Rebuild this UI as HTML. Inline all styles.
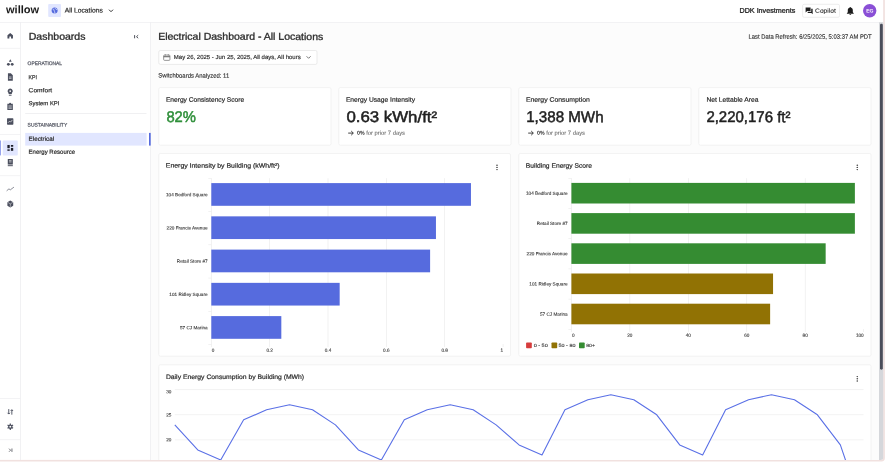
<!DOCTYPE html>
<html lang="en">
<head>
<meta charset="utf-8">
<title>Electrical Dashboard - All Locations</title>
<style>
html,body{margin:0;padding:0;}
body{width:889px;height:464px;overflow:hidden;position:relative;background:#fff;font-family:"Liberation Sans",sans-serif;}
#app{position:absolute;left:0;top:0;width:889px;height:464px;overflow:hidden;}
#bg{position:absolute;left:0;top:0;}
.t{position:absolute;white-space:pre;font-family:"Liberation Sans",sans-serif;transform-origin:0 0;padding:0 24px 0 0;}
</style>
</head>
<body>
<div id="app">
<svg id="bg" width="889" height="464" viewBox="0 0 889 464">
<defs><clipPath id="fc"><path d="M0 0H883.4V456.9a3 3 0 0 1 -3 3H0z"/></clipPath></defs>
<path d="M0 0H884.9V458.0a3.4 3.4 0 0 1 -3.4 3.4H0z" fill="#f1e1df"/>
<g clip-path="url(#fc)">
<rect x="0" y="0" width="883.4" height="459.9" fill="#fff"/>
<rect x="150.5" y="22.3" width="730" height="440" fill="#fcfcfc"/>
<rect x="0" y="22" width="883.4" height="0.6" fill="#ebebee"/>
<rect x="20.3" y="22.3" width="0.7" height="440" fill="#ebebee"/>
<rect x="150.1" y="22.3" width="0.7" height="440" fill="#ebebee"/>
<rect x="879" y="22.3" width="4.6" height="440" fill="#d5d7db"/>
<rect x="880" y="23.7" width="2.8" height="346" rx="1.4" fill="#4a4d5a"/>
<rect x="48.2" y="4" width="12.8" height="13.1" rx="1" fill="#e1e6ff"/>
<g transform="translate(51.5 7.4) scale(0.26)"><circle cx="12" cy="12" r="11.5" fill="#566bde"/><path d="M4 6c2 1 5 1 6 3s-1 3 0 5 3 2 3 4-1 3-1 5" stroke="#e1e6ff" stroke-width="3.2" fill="none"/><path d="M15 2c-1 2 0 4 2 5s4 0 5 3" stroke="#e1e6ff" stroke-width="3" fill="none"/></g>
<path d="M109 9.7l2 2 2 -2" stroke="#333" stroke-width="1" fill="none"/>
<rect x="802.6" y="4.3" width="36.9" height="13" rx="1.5" fill="#fff" stroke="#e6e6e6" stroke-width="0.7"/>
<g transform="translate(805.3 7.1) scale(0.32)" fill="#1f1f1f"><path d="M1 1h15.500v11.500H6l-5 4z"/><path d="M18.500 5h4.500v17.500l-4 -4H7.500v-4h11z"/></g>
<g transform="translate(846.7 6.6) scale(0.36)" fill="#1c1c1c"><path d="M10 1c1 0 1.6 .7 1.6 1.6C15 3.6 17 6.5 17 10v6l2.500 2.5V20H.5v-1.5L3 16v-6c0 -3.5 2 -6.4 5.4 -7.4C8.400 1.7 9 1 10 1zM7.500 21h5c0 1.5 -1.1 2.6 -2.5 2.6S7.500 22.5 7.5 21z"/></g>
<circle cx="869.7" cy="10.8" r="6.7" fill="#8a4fd6"/>
<rect x="0" y="47.9" width="20.3" height="0.6" fill="#ebebee"/>
<rect x="0" y="134" width="20.3" height="0.6" fill="#ebebee"/>
<rect x="0" y="175.5" width="20.3" height="0.6" fill="#ebebee"/>
<rect x="0" y="398.1" width="20.3" height="0.6" fill="#ebebee"/>
<rect x="0" y="439.5" width="20.3" height="0.6" fill="#ebebee"/>
<rect x="2.7" y="140.5" width="15.1" height="14.9" rx="1" fill="#e1e6ff"/>
<rect x="0" y="140.5" width="1" height="14.9" fill="#97a3ec"/>
<g transform="translate(6.9 32.4) scale(0.275 0.275)"><path d="M12 2L2 10v12h7v-7h6v7h7V10z" fill="#4b4f5e"/></g>
<g transform="translate(6.5 58.9) scale(0.3167 0.3083)"><path d="M12 1l4.500 8h-9z" fill="#4b4f5e"/><circle cx="6" cy="17.5" r="4.5" fill="#4b4f5e"/><circle cx="18" cy="17.5" r="4.5" fill="#4b4f5e"/></g>
<g transform="translate(6.3 72.9) scale(0.325 0.3417)"><path d="M5 1h9l6 6v16H5z" fill="#4b4f5e"/><path d="M8 12h8M8 16h8" stroke="#fff" stroke-width="1.8"/></g>
<g transform="translate(6.2 88.2) scale(0.3333 0.325)"><path d="M12 1a8 8 0 0 1 5 14v3H7v-3A8 8 0 0 1 12 1z" fill="#4b4f5e"/><rect x="8" y="20" width="8" height="3" fill="#4b4f5e"/><circle cx="12" cy="9" r="2.5" fill="#fff"/></g>
<g transform="translate(6 102.7) scale(0.3417 0.3167)"><path d="M4 3h5a3 3 0 0 1 6 0h5v20H4z" fill="#4b4f5e"/><path d="M7 10h10M7 14h10M7 18h10" stroke="#fff" stroke-width="1.6"/></g>
<g transform="translate(6.4 117.7) scale(0.3167 0.3167)"><rect x="2" y="2" width="20" height="20" rx="2" fill="#4b4f5e"/><path d="M5 16l5 -5 3 3 6 -7" stroke="#fff" stroke-width="2" fill="none"/></g>
<g transform="translate(6.8 144.4) scale(0.2917 0.2917)"><rect x="2" y="2" width="8" height="11" fill="#1d1f2a"/><rect x="14" y="2" width="8" height="6" fill="#1d1f2a"/><rect x="2" y="17" width="8" height="5" fill="#1d1f2a"/><rect x="14" y="12" width="8" height="10" fill="#1d1f2a"/></g>
<g transform="translate(6.5 158.7) scale(0.3167 0.325)"><path d="M4 1h16v17H4z" fill="#4b4f5e"/><path d="M4 20h16v3H4z" fill="#4b4f5e"/><path d="M8 6h8M8 10h8" stroke="#fff" stroke-width="1.8"/></g>
<g transform="translate(6.3 186.1) scale(0.3333 0.25)"><path d="M1 19l7 -8 4 4 11 -11" stroke="#4b4f5e" stroke-width="2.2" fill="none"/></g>
<g transform="translate(6.8 200.1) scale(0.2917 0.3167)"><path d="M12 1l10 5.5v11L12 23 2 17.5v-11z" fill="#4b4f5e"/><path d="M3 7l9 5 9 -5M12 12v10" stroke="#fff" stroke-width="1.5" fill="none"/></g>
<g transform="translate(6.6 408.2) scale(0.3083 0.3083)"><path d="M7 3v16M3 15l4 4 4 -4M17 21V5M13 9l4 -4 4 4" stroke="#4b4f5e" stroke-width="3" fill="none"/></g>
<g transform="translate(6.8 423.2) scale(0.2917 0.2917)"><circle cx="12" cy="12" r="5.5" fill="none" stroke="#4b4f5e" stroke-width="4"/><path d="M12 1v22M2.500 6.5l19 11M2.500 17.5l19 -11" stroke="#4b4f5e" stroke-width="4"/><circle cx="12" cy="12" r="3" fill="#fff"/></g>
<g transform="translate(8.5 447.9) scale(0.1917 0.1917)"><path d="M3 4l8 8 -8 8" stroke="#33363f" stroke-width="3.6" fill="none"/><path d="M18 3v18" stroke="#33363f" stroke-width="3.6"/></g>
<rect x="25.2" y="113.2" width="121.3" height="0.6" fill="#e6e6ea"/>
<rect x="25.2" y="132.9" width="121.4" height="12.7" fill="#e1e6ff"/>
<rect x="149" y="132.9" width="1.7" height="12.7" fill="#566bde"/>
<path d="M134.600 35.1v3.200M138.200 35.2l-1.7 1.5 1.7 1.5" stroke="#3a3d47" stroke-width="0.9" fill="none"/>
<rect x="158.8" y="50.5" width="158.2" height="13.9" rx="1.5" fill="#fff" stroke="#e3e3e3" stroke-width="0.7"/>
<g transform="translate(163.3 54.3) scale(0.5)" fill="none" stroke="#6a6a6a" stroke-width="1.4"><rect x="0.7" y="1.5" width="12.6" height="10.6" rx="1.8"/><path d="M0.7 4.8h12.600" stroke-width="2.2"/><path d="M4 0v2.500M10 0v2.500"/></g>
<path d="M306.600 56.3l2 2 2 -2" stroke="#555" stroke-width="0.8" fill="none"/>
<rect x="158.8" y="87.6" width="172.2" height="57.6" rx="1.5" fill="#fff" stroke="#eeeeee" stroke-width="0.7"/>
<rect x="338.8" y="87.6" width="172.2" height="57.6" rx="1.5" fill="#fff" stroke="#eeeeee" stroke-width="0.7"/>
<rect x="518.8" y="87.6" width="172.2" height="57.6" rx="1.5" fill="#fff" stroke="#eeeeee" stroke-width="0.7"/>
<rect x="698.8" y="87.6" width="172.2" height="57.6" rx="1.5" fill="#fff" stroke="#eeeeee" stroke-width="0.7"/>
<rect x="158.8" y="153.5" width="351.7" height="202.7" rx="1.5" fill="#fff" stroke="#eeeeee" stroke-width="0.7"/>
<rect x="518.8" y="153.5" width="352.2" height="202.7" rx="1.5" fill="#fff" stroke="#eeeeee" stroke-width="0.7"/>
<rect x="158.8" y="364.8" width="712.2" height="114.9" rx="1.5" fill="#fff" stroke="#eeeeee" stroke-width="0.7"/>
<path d="M348.2 133.1h5M351.2 131l2.100 2.1 -2.1 2.1" stroke="#2e2e2e" stroke-width="0.9" fill="none"/>
<path d="M528.2 133.1h5M531.2 131l2.100 2.1 -2.1 2.1" stroke="#2e2e2e" stroke-width="0.9" fill="none"/>
<rect x="208.3" y="178" width="3" height="0.6" fill="#e9e9e9"/>
<rect x="568.4" y="178" width="3" height="0.6" fill="#e9e9e9"/>
<rect x="208.3" y="211.25" width="3" height="0.6" fill="#e9e9e9"/>
<rect x="568.4" y="208.2" width="3" height="0.6" fill="#e9e9e9"/>
<rect x="208.3" y="244.5" width="3" height="0.6" fill="#e9e9e9"/>
<rect x="568.4" y="238.4" width="3" height="0.6" fill="#e9e9e9"/>
<rect x="208.3" y="277.75" width="3" height="0.6" fill="#e9e9e9"/>
<rect x="568.4" y="268.6" width="3" height="0.6" fill="#e9e9e9"/>
<rect x="208.3" y="311" width="3" height="0.6" fill="#e9e9e9"/>
<rect x="568.4" y="298.8" width="3" height="0.6" fill="#e9e9e9"/>
<rect x="208.3" y="344.25" width="3" height="0.6" fill="#e9e9e9"/>
<rect x="568.4" y="329" width="3" height="0.6" fill="#e9e9e9"/>
<rect x="211" y="344" width="0.6" height="3" fill="#e9e9e9"/>
<rect x="571.1" y="329" width="0.6" height="3" fill="#e9e9e9"/>
<rect x="269.35" y="344" width="0.6" height="3" fill="#e9e9e9"/>
<rect x="629.55" y="329" width="0.6" height="3" fill="#e9e9e9"/>
<rect x="327.7" y="344" width="0.6" height="3" fill="#e9e9e9"/>
<rect x="688" y="329" width="0.6" height="3" fill="#e9e9e9"/>
<rect x="386.05" y="344" width="0.6" height="3" fill="#e9e9e9"/>
<rect x="746.45" y="329" width="0.6" height="3" fill="#e9e9e9"/>
<rect x="444.4" y="344" width="0.6" height="3" fill="#e9e9e9"/>
<rect x="804.9" y="329" width="0.6" height="3" fill="#e9e9e9"/>
<rect x="502.75" y="344" width="0.6" height="3" fill="#e9e9e9"/>
<rect x="863.35" y="329" width="0.6" height="3" fill="#e9e9e9"/>
<rect x="211" y="178.2" width="0.6" height="165.8" fill="#e9e9e9"/>
<rect x="269.35" y="178.2" width="0.6" height="165.8" fill="#e9e9e9"/>
<rect x="327.7" y="178.2" width="0.6" height="165.8" fill="#e9e9e9"/>
<rect x="386.05" y="178.2" width="0.6" height="165.8" fill="#e9e9e9"/>
<rect x="444.4" y="178.2" width="0.6" height="165.8" fill="#e9e9e9"/>
<rect x="211.3" y="183.1" width="259.66" height="22.7" fill="#566bde"/>
<rect x="211.3" y="216.35" width="224.65" height="22.7" fill="#566bde"/>
<rect x="211.3" y="249.6" width="218.81" height="22.7" fill="#566bde"/>
<rect x="211.3" y="282.85" width="128.37" height="22.7" fill="#566bde"/>
<rect x="211.3" y="316.1" width="70.02" height="22.7" fill="#566bde"/>
<rect x="571.1" y="178.2" width="0.6" height="150.8" fill="#e9e9e9"/>
<rect x="629.55" y="178.2" width="0.6" height="150.8" fill="#e9e9e9"/>
<rect x="688" y="178.2" width="0.6" height="150.8" fill="#e9e9e9"/>
<rect x="746.45" y="178.2" width="0.6" height="150.8" fill="#e9e9e9"/>
<rect x="804.9" y="178.2" width="0.6" height="150.8" fill="#e9e9e9"/>
<rect x="571.4" y="182.9" width="283.48" height="20.6" fill="#358c32"/>
<rect x="571.4" y="213.1" width="283.48" height="20.6" fill="#358c32"/>
<rect x="571.4" y="243.3" width="254.26" height="20.6" fill="#358c32"/>
<rect x="571.4" y="273.5" width="201.65" height="20.6" fill="#917204"/>
<rect x="571.4" y="303.7" width="198.73" height="20.6" fill="#917204"/>
<rect x="526.1" y="342.5" width="5.7" height="5.7" rx="0.8" fill="#d63c3c"/>
<rect x="551.5" y="342.5" width="5.7" height="5.7" rx="0.8" fill="#917204"/>
<rect x="579" y="342.5" width="5.7" height="5.7" rx="0.8" fill="#358c32"/>
<ellipse cx="497" cy="165.2" rx="0.85" ry="0.7" fill="#4a4a4a"/>
<ellipse cx="497" cy="167.4" rx="0.85" ry="0.7" fill="#4a4a4a"/>
<ellipse cx="497" cy="169.6" rx="0.85" ry="0.7" fill="#4a4a4a"/>
<ellipse cx="857.3" cy="165.2" rx="0.85" ry="0.7" fill="#4a4a4a"/>
<ellipse cx="857.3" cy="167.4" rx="0.85" ry="0.7" fill="#4a4a4a"/>
<ellipse cx="857.3" cy="169.6" rx="0.85" ry="0.7" fill="#4a4a4a"/>
<ellipse cx="857.3" cy="376.6" rx="0.85" ry="0.7" fill="#4a4a4a"/>
<ellipse cx="857.3" cy="378.8" rx="0.85" ry="0.7" fill="#4a4a4a"/>
<ellipse cx="857.3" cy="381" rx="0.85" ry="0.7" fill="#4a4a4a"/>
<rect x="174.8" y="389.35" width="688.7" height="0.7" fill="#ededed"/>
<rect x="174.8" y="414.45" width="688.7" height="0.7" fill="#ededed"/>
<rect x="174.8" y="439.55" width="688.7" height="0.7" fill="#ededed"/>
<polyline points="174.8,424.84 197.75,449.94 220.7,459.98 243.65,419.82 266.6,409.78 289.55,404.76 312.5,409.78 335.45,424.84 358.4,449.94 381.35,459.98 404.3,419.82 427.25,409.78 450.2,404.76 473.15,409.78 496.1,424.84 519.05,444.92 542,454.96 564.95,409.78 587.9,399.74 610.85,394.72 633.8,399.74 656.75,414.8 679.7,444.92 702.65,454.96 725.6,409.78 748.55,399.74 771.5,394.72 794.45,399.74 817.4,414.8 840.35,444.92 863.3,512.19" fill="none" stroke="#5a70e6" stroke-width="1.1" stroke-linejoin="round"/>
</g>
</svg>
<span class="t" style="left:6px;top:2px;font-size:22px;line-height:30.8px;color:#1a1a1a;transform:translate(0px,0.18px) rotate(0.08deg) scale(0.5015,0.5);font-weight:700;">willow</span>
<span class="t" style="left:64px;top:6px;font-size:13.4px;line-height:18.76px;color:#2b2b2b;transform:translate(0.7px,0.02px) rotate(0.08deg) scale(0.5017,0.5);-webkit-text-stroke:0.4px #2b2b2b;">All Locations</span>
<span class="t" style="left:739px;top:5px;font-size:13.6px;line-height:19.04px;color:#2b2b2b;transform:translate(0.5px,0.73px) rotate(0.08deg) scale(0.5276,0.5);-webkit-text-stroke:0.6px #2b2b2b;">DDK Investments</span>
<span class="t" style="left:815px;top:6px;font-size:12.4px;line-height:17.36px;color:#2b2b2b;transform:translate(0.1px,0.67px) rotate(0.08deg) scale(0.5366,0.5);-webkit-text-stroke:0.2px #2b2b2b;">Copilot</span>
<span class="t" style="left:866px;top:7px;font-size:10px;line-height:14px;color:#fff;transform:translate(0.19px,0.53px) rotate(0.08deg) scale(0.5,0.5);font-weight:700;">EG</span>
<span class="t" style="left:28px;top:29px;font-size:19.8px;line-height:27.72px;color:#2b2b2b;transform:translate(0.7px,0.76px) rotate(0.08deg) scale(0.5325,0.5);-webkit-text-stroke:0.6px #2b2b2b;">Dashboards</span>
<span class="t" style="left:27px;top:59px;font-size:10.2px;line-height:14.28px;color:#5e616c;transform:translate(0.6px,0.95px) rotate(0.08deg) scale(0.481,0.5);-webkit-text-stroke:0.5px #5e616c;">OPERATIONAL</span>
<span class="t" style="left:28px;top:73px;font-size:11.8px;line-height:16.52px;color:#2b2b2b;transform:translate(0.6px,0.16px) rotate(0.08deg) scale(0.4417,0.5);-webkit-text-stroke:0.4px #2b2b2b;">KPI</span>
<span class="t" style="left:28px;top:86px;font-size:11.8px;line-height:16.52px;color:#2b2b2b;transform:translate(0.6px,0.25px) rotate(0.08deg) scale(0.5625,0.5);-webkit-text-stroke:0.4px #2b2b2b;">Comfort</span>
<span class="t" style="left:28px;top:99px;font-size:11.8px;line-height:16.52px;color:#2b2b2b;transform:translate(0.6px,0.25px) rotate(0.08deg) scale(0.4998,0.5);-webkit-text-stroke:0.4px #2b2b2b;">System KPI</span>
<span class="t" style="left:27px;top:121px;font-size:10.2px;line-height:14.28px;color:#5e616c;transform:translate(0.6px,0.54px) rotate(0.08deg) scale(0.4868,0.5);-webkit-text-stroke:0.5px #5e616c;">SUSTAINABILITY</span>
<span class="t" style="left:28px;top:134px;font-size:11.8px;line-height:16.52px;color:#2b2b2b;transform:translate(0.6px,0.65px) rotate(0.08deg) scale(0.5328,0.5);-webkit-text-stroke:0.4px #2b2b2b;">Electrical</span>
<span class="t" style="left:28px;top:147px;font-size:11.8px;line-height:16.52px;color:#2b2b2b;transform:translate(0.6px,0.74px) rotate(0.08deg) scale(0.5101,0.5);-webkit-text-stroke:0.4px #2b2b2b;">Energy Resource</span>
<span class="t" style="left:158px;top:29px;font-size:19.8px;line-height:27.72px;color:#2b2b2b;transform:translate(0.2px,0.69px) rotate(0.08deg) scale(0.5306,0.5);-webkit-text-stroke:0.6px #2b2b2b;">Electrical Dashboard - All Locations</span>
<span class="t" style="left:748px;top:32px;font-size:12.6px;line-height:17.64px;color:#2b2b2b;transform:translate(0.5px,0.66px) rotate(0.08deg) scale(0.4668,0.5);-webkit-text-stroke:0.24px #2b2b2b;">Last Data Refresh: 6/25/2025, 5:03:37 AM PDT</span>
<span class="t" style="left:173px;top:52px;font-size:11.8px;line-height:16.52px;color:#2b2b2b;transform:translate(0.8px,0.88px) rotate(0.08deg) scale(0.5092,0.5);-webkit-text-stroke:0.3px #2b2b2b;">May 26, 2025 - Jun 25, 2025, All days, All hours</span>
<span class="t" style="left:158px;top:71px;font-size:12.6px;line-height:17.64px;color:#2b2b2b;transform:translate(0.2px,0.6px) rotate(0.08deg) scale(0.4731,0.5);-webkit-text-stroke:0.24px #2b2b2b;">Switchboards Analyzed: 11</span>
<span class="t" style="left:165px;top:95px;font-size:12.8px;line-height:17.92px;color:#2b2b2b;transform:translate(0.9px,0.13px) rotate(0.08deg) scale(0.5192,0.5);-webkit-text-stroke:0.4px #2b2b2b;">Energy Consistency Score</span>
<span class="t" style="left:345px;top:95px;font-size:12.8px;line-height:17.92px;color:#2b2b2b;transform:translate(0.9px,0.13px) rotate(0.08deg) scale(0.5222,0.5);-webkit-text-stroke:0.4px #2b2b2b;">Energy Usage Intensity</span>
<span class="t" style="left:525px;top:95px;font-size:12.8px;line-height:17.92px;color:#2b2b2b;transform:translate(0.9px,0.14px) rotate(0.08deg) scale(0.5355,0.5);-webkit-text-stroke:0.4px #2b2b2b;">Energy Consumption</span>
<span class="t" style="left:706px;top:95px;font-size:12.8px;line-height:17.92px;color:#2b2b2b;transform:translate(0.4px,0.14px) rotate(0.08deg) scale(0.5258,0.5);-webkit-text-stroke:0.4px #2b2b2b;">Net Lettable Area</span>
<span class="t" style="left:166px;top:106px;font-size:31px;line-height:43.4px;color:#2f8f3a;transform:translate(0.4px,0.09px) rotate(0.08deg) scale(0.4754,0.5);-webkit-text-stroke:1px #2f8f3a;">82%</span>
<span class="t" style="left:346px;top:106px;font-size:31px;line-height:43.4px;color:#1f1f1f;transform:translate(0.4px,0.05px) rotate(0.08deg) scale(0.5428,0.5);-webkit-text-stroke:1px #1f1f1f;">0.63 kWh/ft&sup2;</span>
<span class="t" style="left:526px;top:106px;font-size:31px;line-height:43.4px;color:#1f1f1f;transform:translate(0.2px,0.06px) rotate(0.08deg) scale(0.4883,0.5);-webkit-text-stroke:1px #1f1f1f;">1,388 MWh</span>
<span class="t" style="left:706px;top:106px;font-size:31px;line-height:43.4px;color:#1f1f1f;transform:translate(0.4px,0.05px) rotate(0.08deg) scale(0.4831,0.5);-webkit-text-stroke:1px #1f1f1f;">2,220,176 ft&sup2;</span>
<span class="t" style="left:357px;top:129px;font-size:11.4px;line-height:15.96px;color:#2b2b2b;transform:translate(0px,0.33px) rotate(0.08deg) scale(0.4615,0.5);font-weight:700;">0%</span>
<span class="t" style="left:366px;top:129px;font-size:11.4px;line-height:15.96px;color:#6e6e6e;transform:translate(0.2px,0.31px) rotate(0.08deg) scale(0.5106,0.5);-webkit-text-stroke:0.2px #6e6e6e;">for prior 7 days</span>
<span class="t" style="left:537px;top:129px;font-size:11.4px;line-height:15.96px;color:#2b2b2b;transform:translate(0px,0.33px) rotate(0.08deg) scale(0.4615,0.5);font-weight:700;">0%</span>
<span class="t" style="left:546px;top:129px;font-size:11.4px;line-height:15.96px;color:#6e6e6e;transform:translate(0.2px,0.31px) rotate(0.08deg) scale(0.5106,0.5);-webkit-text-stroke:0.2px #6e6e6e;">for prior 7 days</span>
<span class="t" style="left:165px;top:161px;font-size:12.8px;line-height:17.92px;color:#2b2b2b;transform:translate(0.8px,0.1px) rotate(0.08deg) scale(0.5401,0.5);-webkit-text-stroke:0.4px #2b2b2b;">Energy Intensity by Building (kWh/ft&sup2;)</span>
<span class="t" style="left:525px;top:161px;font-size:12.8px;line-height:17.92px;color:#2b2b2b;transform:translate(0.8px,0.13px) rotate(0.08deg) scale(0.5228,0.5);-webkit-text-stroke:0.4px #2b2b2b;">Building Energy Score</span>
<span class="t" style="left:165px;top:372px;font-size:12.8px;line-height:17.92px;color:#2b2b2b;transform:translate(0.9px,0.38px) rotate(0.08deg) scale(0.5324,0.5);-webkit-text-stroke:0.4px #2b2b2b;">Daily Energy Consumption by Building (MWh)</span>
<span class="t" style="left:165px;top:191px;font-size:9.3px;line-height:13.02px;color:#3a3a3a;transform:translate(0.99px,0.66px) rotate(0.08deg) scale(0.5,0.5);-webkit-text-stroke:0.24px #3a3a3a;">104 Bedford Square</span>
<span class="t" style="left:166px;top:224px;font-size:9.3px;line-height:13.02px;color:#3a3a3a;transform:translate(0.59px,0.91px) rotate(0.08deg) scale(0.5,0.5);-webkit-text-stroke:0.24px #3a3a3a;">220 Francis Avenue</span>
<span class="t" style="left:176px;top:258px;font-size:9.3px;line-height:13.02px;color:#3a3a3a;transform:translate(0.85px,0.17px) rotate(0.08deg) scale(0.5,0.5);-webkit-text-stroke:0.24px #3a3a3a;">Retail Store #7</span>
<span class="t" style="left:169px;top:291px;font-size:9.3px;line-height:13.02px;color:#3a3a3a;transform:translate(0.35px,0.41px) rotate(0.08deg) scale(0.5,0.5);-webkit-text-stroke:0.24px #3a3a3a;">101 Ridley Square</span>
<span class="t" style="left:179px;top:324px;font-size:9.3px;line-height:13.02px;color:#3a3a3a;transform:translate(0.95px,0.67px) rotate(0.08deg) scale(0.5,0.5);-webkit-text-stroke:0.24px #3a3a3a;">57 CJ Marina</span>
<span class="t" style="left:525px;top:190px;font-size:9.3px;line-height:13.02px;color:#3a3a3a;transform:translate(0.99px,0.36px) rotate(0.08deg) scale(0.5,0.5);-webkit-text-stroke:0.24px #3a3a3a;">104 Bedford Square</span>
<span class="t" style="left:536px;top:220px;font-size:9.3px;line-height:13.02px;color:#3a3a3a;transform:translate(0.85px,0.57px) rotate(0.08deg) scale(0.5,0.5);-webkit-text-stroke:0.24px #3a3a3a;">Retail Store #7</span>
<span class="t" style="left:526px;top:250px;font-size:9.3px;line-height:13.02px;color:#3a3a3a;transform:translate(0.59px,0.76px) rotate(0.08deg) scale(0.5,0.5);-webkit-text-stroke:0.24px #3a3a3a;">220 Francis Avenue</span>
<span class="t" style="left:529px;top:280px;font-size:9.3px;line-height:13.02px;color:#3a3a3a;transform:translate(0.35px,0.96px) rotate(0.08deg) scale(0.5,0.5);-webkit-text-stroke:0.24px #3a3a3a;">101 Ridley Square</span>
<span class="t" style="left:539px;top:311px;font-size:9.3px;line-height:13.02px;color:#3a3a3a;transform:translate(0.95px,0.17px) rotate(0.08deg) scale(0.5,0.5);-webkit-text-stroke:0.24px #3a3a3a;">57 CJ Marina</span>
<span class="t" style="left:211px;top:347px;font-size:9.3px;line-height:13.02px;color:#3a3a3a;transform:translate(0.8px,0.19px) rotate(0.08deg) scale(0.5,0.5);-webkit-text-stroke:0.24px #3a3a3a;">0</span>
<span class="t" style="left:266px;top:347px;font-size:9.3px;line-height:13.02px;color:#3a3a3a;transform:translate(0.42px,0.19px) rotate(0.08deg) scale(0.5,0.5);-webkit-text-stroke:0.24px #3a3a3a;">0.2</span>
<span class="t" style="left:324px;top:347px;font-size:9.3px;line-height:13.02px;color:#3a3a3a;transform:translate(0.77px,0.19px) rotate(0.08deg) scale(0.5,0.5);-webkit-text-stroke:0.24px #3a3a3a;">0.4</span>
<span class="t" style="left:383px;top:347px;font-size:9.3px;line-height:13.02px;color:#3a3a3a;transform:translate(0.12px,0.19px) rotate(0.08deg) scale(0.5,0.5);-webkit-text-stroke:0.24px #3a3a3a;">0.6</span>
<span class="t" style="left:441px;top:347px;font-size:9.3px;line-height:13.02px;color:#3a3a3a;transform:translate(0.47px,0.19px) rotate(0.08deg) scale(0.5,0.5);-webkit-text-stroke:0.24px #3a3a3a;">0.8</span>
<span class="t" style="left:500px;top:347px;font-size:9.3px;line-height:13.02px;color:#3a3a3a;transform:translate(0.46px,0.19px) rotate(0.08deg) scale(0.5,0.5);-webkit-text-stroke:0.24px #3a3a3a;">1</span>
<span class="t" style="left:571px;top:332px;font-size:9.3px;line-height:13.02px;color:#3a3a3a;transform:translate(0.9px,0.29px) rotate(0.08deg) scale(0.5,0.5);-webkit-text-stroke:0.24px #3a3a3a;">0</span>
<span class="t" style="left:627px;top:332px;font-size:9.3px;line-height:13.02px;color:#3a3a3a;transform:translate(0.26px,0.29px) rotate(0.08deg) scale(0.5,0.5);-webkit-text-stroke:0.24px #3a3a3a;">20</span>
<span class="t" style="left:685px;top:332px;font-size:9.3px;line-height:13.02px;color:#3a3a3a;transform:translate(0.71px,0.29px) rotate(0.08deg) scale(0.5,0.5);-webkit-text-stroke:0.24px #3a3a3a;">40</span>
<span class="t" style="left:744px;top:332px;font-size:9.3px;line-height:13.02px;color:#3a3a3a;transform:translate(0.16px,0.29px) rotate(0.08deg) scale(0.5,0.5);-webkit-text-stroke:0.24px #3a3a3a;">60</span>
<span class="t" style="left:802px;top:332px;font-size:9.3px;line-height:13.02px;color:#3a3a3a;transform:translate(0.61px,0.29px) rotate(0.08deg) scale(0.5,0.5);-webkit-text-stroke:0.24px #3a3a3a;">80</span>
<span class="t" style="left:855px;top:332px;font-size:9.3px;line-height:13.02px;color:#3a3a3a;transform:translate(0.89px,0.29px) rotate(0.08deg) scale(0.5,0.5);-webkit-text-stroke:0.24px #3a3a3a;">100</span>
<span class="t" style="left:533px;top:342px;font-size:9.3px;line-height:13.02px;color:#3a3a3a;transform:translate(0.7px,0.48px) rotate(0.08deg) scale(0.5887,0.5);-webkit-text-stroke:0.24px #3a3a3a;">0 - 50</span>
<span class="t" style="left:558px;top:342px;font-size:9.3px;line-height:13.02px;color:#3a3a3a;transform:translate(0.6px,0.48px) rotate(0.08deg) scale(0.5802,0.5);-webkit-text-stroke:0.24px #3a3a3a;">50 - 80</span>
<span class="t" style="left:586px;top:342px;font-size:9.3px;line-height:13.02px;color:#3a3a3a;transform:translate(0.3px,0.48px) rotate(0.08deg) scale(0.545,0.5);-webkit-text-stroke:0.24px #3a3a3a;">80+</span>
<span class="t" style="left:166px;top:388px;font-size:9.3px;line-height:13.02px;color:#3a3a3a;transform:translate(0.2px,0.79px) rotate(0.08deg) scale(0.5,0.5);-webkit-text-stroke:0.24px #3a3a3a;">30</span>
<span class="t" style="left:166px;top:411px;font-size:9.3px;line-height:13.02px;color:#3a3a3a;transform:translate(0.2px,0.99px) rotate(0.08deg) scale(0.5,0.5);-webkit-text-stroke:0.24px #3a3a3a;">25</span>
<span class="t" style="left:166px;top:436px;font-size:9.3px;line-height:13.02px;color:#3a3a3a;transform:translate(0.2px,0.79px) rotate(0.08deg) scale(0.5,0.5);-webkit-text-stroke:0.24px #3a3a3a;">20</span>
</div>
</body>
</html>
